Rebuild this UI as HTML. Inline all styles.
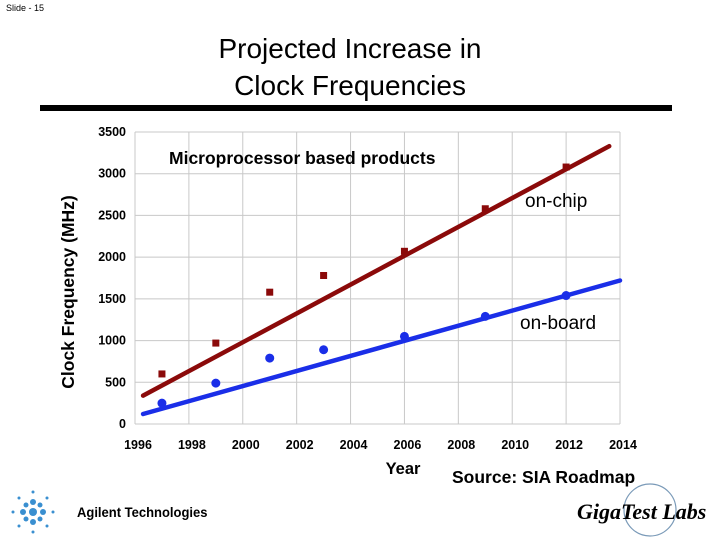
<!DOCTYPE html>
<html><head><meta charset="utf-8"><style>
body{margin:0;width:720px;height:540px;background:#fff;font-family:"Liberation Sans",sans-serif;position:relative;overflow:hidden}
.a{position:absolute;white-space:nowrap}
</style></head><body>
<div class="a" style="left:6px;top:3px;font-size:9px">Slide - 15</div>
<div class="a" style="left:0;width:700px;top:30px;text-align:center;font-size:28px;line-height:37px">Projected Increase in<br>Clock Frequencies</div>
<div class="a" style="left:40px;top:105px;width:632px;height:6px;background:#000"></div>
<svg class="a" style="left:0;top:0" width="720" height="540">
<g id="grid"></g><g id="marks"></g><g id="labels"></g>
<text x="74" y="292" transform="rotate(-90 74 292)" text-anchor="middle" font-size="17.5" font-weight="bold" font-family="Liberation Sans">Clock Frequency (MHz)</text>
<text x="403" y="474" text-anchor="middle" font-size="16.5" font-weight="bold" font-family="Liberation Sans">Year</text>
<text x="169" y="164" font-size="17.5" font-weight="bold" font-family="Liberation Sans">Microprocessor based products</text>
<text x="525" y="207" font-size="19" font-family="Liberation Sans">on-chip</text>
<text x="520" y="329" font-size="19" font-family="Liberation Sans">on-board</text>
<text x="452" y="483" font-size="17.5" font-weight="bold" font-family="Liberation Sans">Source: SIA Roadmap</text>
<g fill="#3a8fd0">
<circle cx="33" cy="512" r="4"/><circle cx="33" cy="502" r="3"/><circle cx="33" cy="522" r="3"/><circle cx="23" cy="512" r="3"/><circle cx="43" cy="512" r="3"/>
<circle cx="26" cy="505" r="2.5"/><circle cx="40" cy="505" r="2.5"/><circle cx="26" cy="519" r="2.5"/><circle cx="40" cy="519" r="2.5"/>
<circle cx="33" cy="492" r="1.5"/><circle cx="33" cy="532" r="1.5"/><circle cx="13" cy="512" r="1.5"/><circle cx="53" cy="512" r="1.5"/>
<circle cx="19" cy="498" r="1.5"/><circle cx="47" cy="498" r="1.5"/><circle cx="19" cy="526" r="1.5"/><circle cx="47" cy="526" r="1.5"/>
</g>
<text x="77" y="517" font-size="14" font-weight="bold" font-family="Liberation Sans" transform="scale(0.93 1)" style="transform-origin:77px 517px">Agilent Technologies</text>
<circle cx="650" cy="510" r="26" fill="none" stroke="#7a9ab8" stroke-width="1.2"/>
<text x="577" y="519" font-size="22" font-style="italic" font-weight="bold" font-family="Liberation Serif">GigaTest Labs</text>
</svg>
<script>
const years=[1997,1999,2001,2003,2006,2009,2012];
const onChip=[600,970,1580,1780,2070,2580,3080];
const onBoard=[250,490,790,890,1050,1290,1540];
const chipFit=[[1996.3,340],[2013.6,3330]];
const boardFit=[[1996.3,120],[2014,1720]];
const xTicks=[1996,1998,2000,2002,2004,2006,2008,2010,2012,2014];
const yTicks=[0,500,1000,1500,2000,2500,3000,3500];
const X=v=>135+(v-1996)/18*485, Y=v=>424-v/3500*292;
const ns="http://www.w3.org/2000/svg";
function mk(p,t,a){const e=document.createElementNS(ns,t);for(const k in a)e.setAttribute(k,a[k]);document.getElementById(p).appendChild(e);return e;}
xTicks.forEach(t=>{const l=mk('grid','line',{x1:X(t),x2:X(t),y1:Y(0),y2:Y(3500),stroke:'#c8c8c8'});


const s=mk('labels','text',{x:X(t)+3,y:449,'text-anchor':'middle','font-size':12.5,'font-weight':'bold','font-family':'Liberation Sans'});s.textContent=t;

});
yTicks.forEach(t=>{const l=mk('grid','line',{x1:X(1996),x2:X(2014),y1:Y(t),y2:Y(t),stroke:'#c8c8c8'});


const s=mk('labels','text',{x:126,y:Y(t)+4,'text-anchor':'end','font-size':12.5,'font-weight':'bold','font-family':'Liberation Sans'});s.textContent=t;

});
const lc=mk('marks','line',{x1:X(chipFit[0][0]),y1:Y(chipFit[0][1]),x2:X(chipFit[1][0]),y2:Y(chipFit[1][1]),stroke:'#8b0a0a','stroke-width':4.5,'stroke-linecap':'round'});


const lb=mk('marks','line',{x1:X(boardFit[0][0]),y1:Y(boardFit[0][1]),x2:X(boardFit[1][0]),y2:Y(boardFit[1][1]),stroke:'#1a2ee8','stroke-width':4.5,'stroke-linecap':'round'});


years.forEach((y,i)=>{const r=mk('marks','rect',{x:X(y)-3.5,y:Y(onChip[i])-3.5,width:7,height:7,fill:'#8b0a0a'});


const c=mk('marks','circle',{cx:X(y),cy:Y(onBoard[i]),r:4.5,fill:'#1a2ee8'});

});
</script>
</body></html>
